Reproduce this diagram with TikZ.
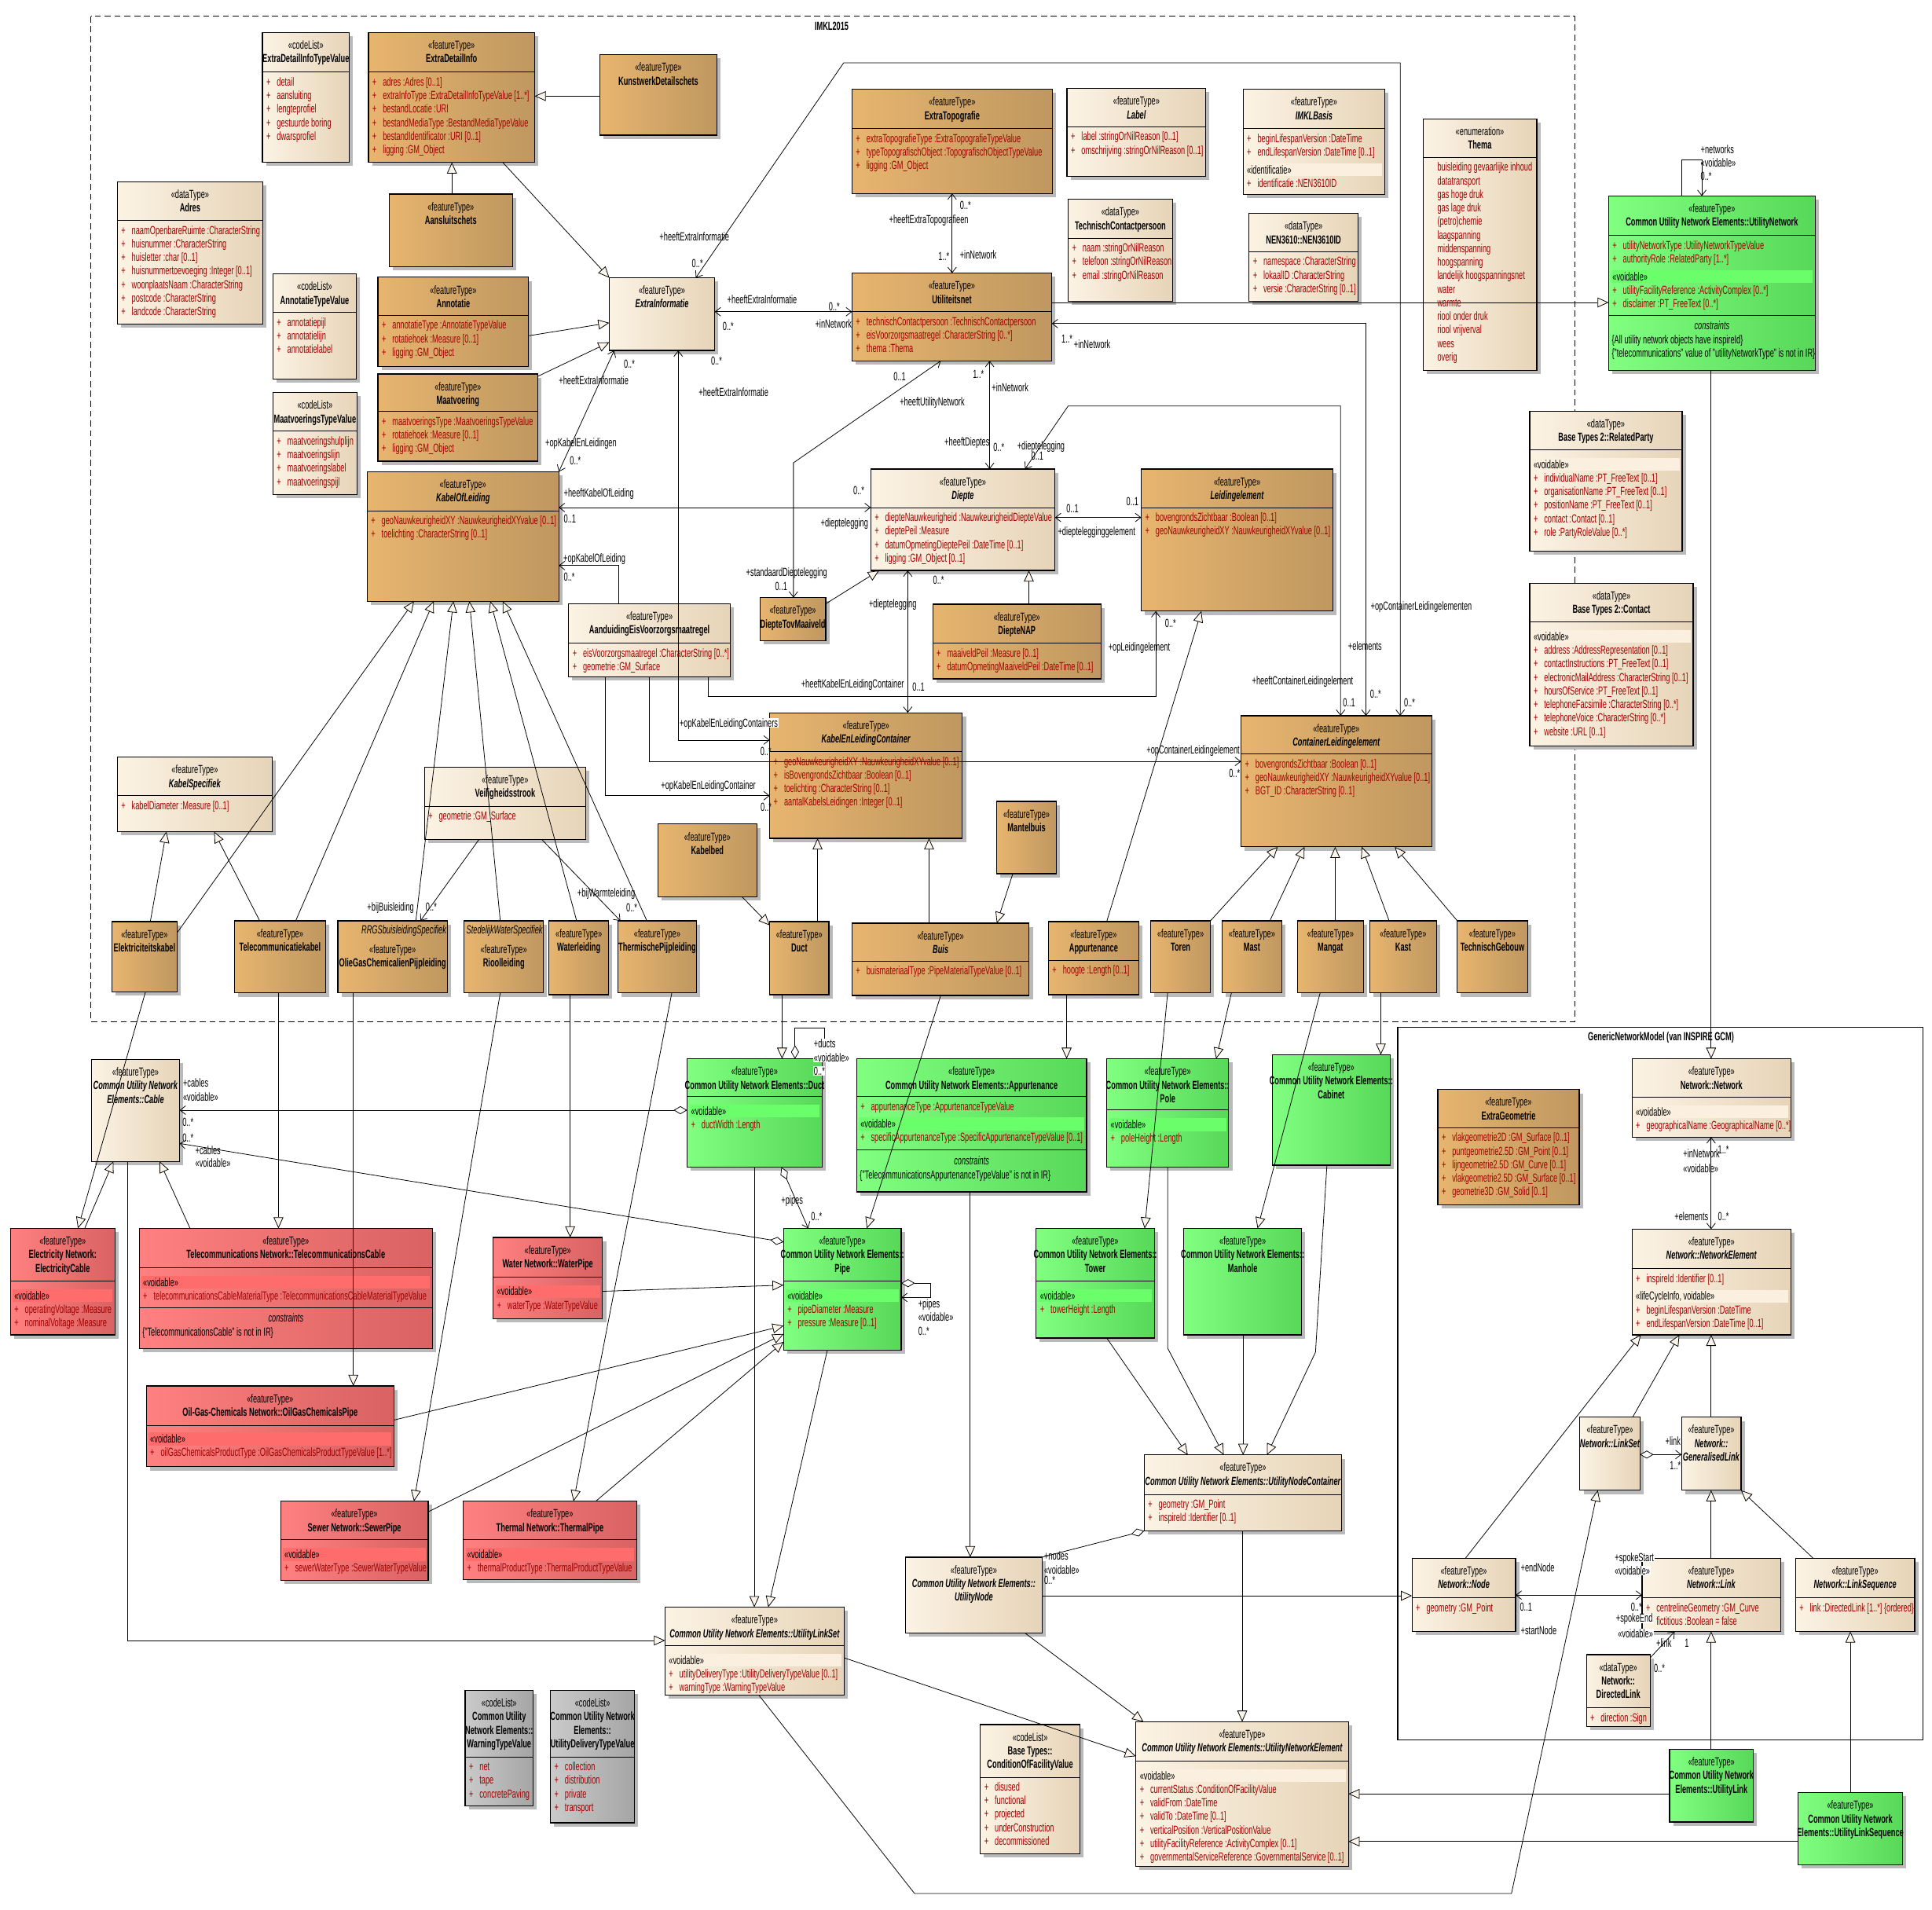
\documentclass[tikz,border=0pt]{standalone}
\usepackage{fontspec}
\setmainfont{Liberation Sans}[FakeStretch=0.62]
\usetikzlibrary{arrows.meta,shadows,calc}

\definecolor{tanL}{HTML}{E7B56F}
\definecolor{tanR}{HTML}{BF9760}
\definecolor{crL}{HTML}{FCF3E4}
\definecolor{crR}{HTML}{E6D4B8}
\definecolor{gnL}{HTML}{80FF80}
\definecolor{gnR}{HTML}{58D858}
\definecolor{rdL}{HTML}{FF8080}
\definecolor{rdR}{HTML}{D96262}
\definecolor{gyL}{HTML}{CACACA}
\definecolor{gyR}{HTML}{A5A5A5}
\definecolor{crB}{HTML}{FBF0DF}
\definecolor{gnB}{HTML}{6AFF6A}
\definecolor{rdB}{HTML}{FF6C6C}
\definecolor{attrred}{HTML}{A00000}
\definecolor{trifill}{HTML}{FBF5EC}

\newcommand{\uf}{\fontsize{9.5}{11}\selectfont}
\newcommand{\uSt}[1]{\strut«#1»}
\newcommand{\uNm}[1]{\strut\textbf{#1}}
\newcommand{\uNi}[1]{\strut\textbf{\textit{#1}}}
\newcommand{\uAp}[1]{\strut\makebox[8.5pt][l]{+}#1}
\newcommand{\uEv}[1]{\strut\makebox[8.5pt]{}#1}
\newcommand{\uSv}[1]{\strut\textcolor{black}{«#1»}}

\tikzset{
  box/.style={draw=black,line width=0.8pt,inner sep=0pt,outer sep=0pt,
    drop shadow={shadow xshift=3pt,shadow yshift=-3pt,fill=black!27,opacity=1}},
  ftan/.style={left color=tanL,right color=tanR},
  fcr/.style={left color=crL,right color=crR},
  fgn/.style={left color=gnL,right color=gnR},
  frd/.style={left color=rdL,right color=rdR},
  fgy/.style={left color=gyL,right color=gyR},
  hdr/.style={anchor=north,inner sep=0pt,align=center,font=\uf},
  attrs/.style={anchor=north west,inner sep=0pt,align=left,font=\uf,text=attrred},
  lbl/.style={anchor=west,inner sep=0.4pt,font=\uf,text height=6.8pt,text depth=0pt},
  sepl/.style={line width=0.6pt},
  conn/.style={line width=0.5pt},
  gen/.style={conn,-{Triangle[length=9pt,width=8pt,fill=trifill]}},
  nav/.style={conn,-{Straight Barb[length=4.5pt,width=7pt]}},
  nav2/.style={conn,{Straight Barb[length=4.5pt,width=7pt]}-{Straight Barb[length=4.5pt,width=7pt]}},
  agg/.style={conn,{Diamond[length=11pt,width=6.5pt,fill=white]}-},
  aggnav/.style={conn,{Diamond[length=11pt,width=6.5pt,fill=white]}-{Straight Barb[length=4.5pt,width=7pt]}},
}

% class box: [header shift]{name}{fill}{x0}{y0}{x1}{y1}{header}
\newcommand{\ccls}[8][5.6]{%
  \node[box,#3,anchor=north west,minimum width={(#6-#4)*1pt},minimum height={(#7-#5)*1pt}] (#2) at (#4,#5) {};
  \node[hdr,yshift=-#1pt] (#2-h) at (#2.north) {#8};
}
\newcommand{\csep}[2]{\draw[sepl] (#1.west |- 0,#2) -- (#1.east |- 0,#2);}
\newcommand{\cbody}[5][0]{\node[attrs,xshift=3pt,yshift={-3.2pt-#1pt}] (#2-#3) at (#2.west |- 0,#4) {#5};}
\newcommand{\cband}[3]{\fill[#3] ($(#1.west |- 0,#2)+(2,-5.2)$) rectangle ($(#1.east |- 0,#2)+(-2,5.2)$);}
\newcommand{\ccons}[3]{%
  \draw[sepl] (#1.west |- 0,#2) -- (#1.east |- 0,#2);
  \node[hdr,yshift=-3.8pt] (#1-ct) at (#1.center |- 0,#2) {\strut\textit{constraints}};
  \node[attrs,text=black,xshift=2.5pt,yshift=-15.2pt] (#1-cl) at (#1.west |- 0,#2) {#3};
}
\newcommand{\clab}[4][]{\node[lbl,#1] (#2) at (#3) {#4};}

\begin{document}
\begin{tikzpicture}[x=1pt,y=-1pt]
\fill[white] (0,0) rectangle (1568,1550);
\useasboundingbox (0,0) rectangle (1568,1550);

% package frames
\draw[line width=0.7pt,dash pattern=on 5pt off 3pt] (73.75,13.2) rectangle (1278,829);
\node[font=\uf\bfseries] (imkltitle) at (675,21) {IMKL2015};
\draw[line width=0.7pt] (1134.4,833.6) rectangle (1560.5,1412);
\node[font=\uf\bfseries] (gnmtitle) at (1348,841.8) {GenericNetworkModel (van INSPIRE GCM)};

% ---------------- IMKL2015 classes ----------------
\ccls{edtv}{fcr}{213}{26.4}{283.5}{131.8}{\uSt{codeList}\\\uNm{ExtraDetailInfoTypeValue}}
\csep{edtv}{58.6}
\cbody{edtv}{a}{58.6}{\uAp{detail}\\\uAp{aansluiting}\\\uAp{lengteprofiel}\\\uAp{gestuurde boring}\\\uAp{dwarsprofiel}}

\ccls{edi}{ftan}{299}{26.4}{434}{131.8}{\uSt{featureType}\\\uNm{ExtraDetailInfo}}
\csep{edi}{58.6}
\cbody{edi}{a}{58.6}{\uAp{adres :Adres [0..1]}\\\uAp{extraInfoType :ExtraDetailInfoTypeValue [1..*]}\\\uAp{bestandLocatie :URI}\\\uAp{bestandMediaType :BestandMediaTypeValue}\\\uAp{bestandIdentificator :URI [0..1]}\\\uAp{ligging :GM\_Object}}

\ccls{adres}{fcr}{95.25}{147.6}{213.25}{263}{\uSt{dataType}\\\uNm{Adres}}
\csep{adres}{179}
\cbody{adres}{a}{179}{\uAp{naamOpenbareRuimte :CharacterString}\\\uAp{huisnummer :CharacterString}\\\uAp{huisletter :char [0..1]}\\\uAp{huisnummertoevoeging :Integer [0..1]}\\\uAp{woonplaatsNaam :CharacterString}\\\uAp{postcode :CharacterString}\\\uAp{landcode :CharacterString}}

\ccls{aansl}{ftan}{315.75}{157.5}{416}{216.5}{\uSt{featureType}\\\uNm{Aansluitschets}}

\ccls{atv}{fcr}{221.5}{222.4}{289.25}{307.7}{\uSt{codeList}\\\uNm{AnnotatieTypeValue}}
\csep{atv}{253.7}
\cbody{atv}{a}{253.7}{\uAp{annotatiepijl}\\\uAp{annotatielijn}\\\uAp{annotatielabel}}

\ccls{annot}{ftan}{306.75}{225}{429}{297.5}{\uSt{featureType}\\\uNm{Annotatie}}
\csep{annot}{256}
\cbody{annot}{a}{256}{\uAp{annotatieType :AnnotatieTypeValue}\\\uAp{rotatiehoek :Measure [0..1]}\\\uAp{ligging :GM\_Object}}

\ccls{mtv}{fcr}{221.5}{318.6}{289.75}{401.3}{\uSt{codeList}\\\uNm{MaatvoeringsTypeValue}}
\csep{mtv}{350}
\cbody{mtv}{a}{350}{\uAp{maatvoeringshulplijn}\\\uAp{maatvoeringslijn}\\\uAp{maatvoeringslabel}\\\uAp{maatvoeringspijl}}

\ccls{maat}{ftan}{306.75}{303.5}{436.5}{374.3}{\uSt{featureType}\\\uNm{Maatvoering}}
\csep{maat}{334}
\cbody{maat}{a}{334}{\uAp{maatvoeringsType :MaatvoeringsTypeValue}\\\uAp{rotatiehoek :Measure [0..1]}\\\uAp{ligging :GM\_Object}}

\ccls{kol}{ftan}{298}{382.9}{453.5}{488}{\uSt{featureType}\\\uNi{KabelOfLeiding}}
\csep{kol}{414.5}
\cbody{kol}{a}{414.5}{\uAp{geoNauwkeurigheidXY :NauwkeurigheidXYvalue [0..1]}\\\uAp{toelichting :CharacterString [0..1]}}

\ccls{kws}{ftan}{486.7}{44.5}{582}{109.7}{\uSt{featureType}\\\uNm{KunstwerkDetailschets}}
\ccls{exinf}{fcr}{494.5}{225.4}{580}{284.4}{\uSt{featureType}\\\uNi{ExtraInformatie}}

\ccls{extopo}{ftan}{691.5}{72.5}{854}{157}{\uSt{featureType}\\\uNm{ExtraTopografie}}
\csep{extopo}{104.4}
\cbody{extopo}{a}{104.4}{\uAp{extraTopografieType :ExtraTopografieTypeValue}\\\uAp{typeTopografischObject :TopografischObjectTypeValue}\\\uAp{ligging :GM\_Object}}

\ccls{util}{ftan}{691.5}{221.7}{853.6}{292.9}{\uSt{featureType}\\\uNm{Utiliteitsnet}}
\csep{util}{253}
\cbody{util}{a}{253}{\uAp{technischContactpersoon :TechnischContactpersoon}\\\uAp{eisVoorzorgsmaatregel :CharacterString [0..*]}\\\uAp{thema :Thema}}

\ccls{aand}{fcr}{461.5}{490}{592.7}{549.5}{\uSt{featureType}\\\uNm{AanduidingEisVoorzorgsmaatregel}}
\csep{aand}{522}
\cbody{aand}{a}{522}{\uAp{eisVoorzorgsmaatregel :CharacterString [0..*]}\\\uAp{geometrie :GM\_Surface}}

\ccls{diepte}{fcr}{706.7}{380.6}{856.2}{463}{\uSt{featureType}\\\uNi{Diepte}}
\csep{diepte}{412}
\cbody{diepte}{a}{412}{\uAp{diepteNauwkeurigheid :NauwkeurigheidDiepteValue}\\\uAp{dieptePeil :Measure}\\\uAp{datumOpmetingDieptePeil :DateTime [0..1]}\\\uAp{ligging :GM\_Object [0..1]}}

\ccls{dtm}{ftan}{616.7}{485}{670.2}{520}{\uSt{featureType}\\\uNm{DiepteTovMaaiveld}}

\ccls{label}{fcr}{866}{71.8}{978.6}{143.3}{\uSt{featureType}\\\uNi{Label}}
\csep{label}{103}
\cbody{label}{a}{103}{\uAp{label :stringOrNilReason [0..1]}\\\uAp{omschrijving :stringOrNilReason [0..1]}}

\ccls{imklb}{fcr}{1008.9}{72.5}{1123.9}{158}{\uSt{featureType}\\\uNi{IMKLBasis}}
\csep{imklb}{104.4}
\cband{imklb}{137.7}{crB}
\cbody{imklb}{a}{104.4}{\uAp{beginLifespanVersion :DateTime}\\\uAp{endLifespanVersion :DateTime [0..1]}\\[3.5pt]\uSv{identificatie}\\\uAp{identificatie :NEN3610ID}}

\ccls{tcp}{fcr}{866.9}{161.8}{951.6}{244.5}{\uSt{dataType}\\\uNm{TechnischContactpersoon}}
\csep{tcp}{193.4}
\cbody{tcp}{a}{193.4}{\uAp{naam :stringOrNilReason}\\\uAp{telefoon :stringOrNilReason}\\\uAp{email :stringOrNilReason}}

\ccls{nen}{fcr}{1013.7}{173.3}{1102.2}{244.5}{\uSt{dataType}\\\uNm{NEN3610::NEN3610ID}}
\csep{nen}{204.3}
\cbody{nen}{a}{204.3}{\uAp{namespace :CharacterString}\\\uAp{lokaalID :CharacterString}\\\uAp{versie :CharacterString [0..1]}}

\ccls{thema}{fcr}{1154.9}{96.5}{1247.2}{300.5}{\uSt{enumeration}\\\uNm{Thema}}
\csep{thema}{127.8}
\cbody{thema}{a}{127.8}{\uEv{buisleiding gevaarlijke inhoud}\\\uEv{datatransport}\\\uEv{gas hoge druk}\\\uEv{gas lage druk}\\\uEv{(petro)chemie}\\\uEv{laagspanning}\\\uEv{middenspanning}\\\uEv{hoogspanning}\\\uEv{landelijk hoogspanningsnet}\\\uEv{water}\\\uEv{warmte}\\\uEv{riool onder druk}\\\uEv{riool vrijverval}\\\uEv{wees}\\\uEv{overig}}

\ccls{leid}{ftan}{926.2}{380.6}{1081.9}{496}{\uSt{featureType}\\\uNi{Leidingelement}}
\csep{leid}{412}
\cbody{leid}{a}{412}{\uAp{bovengrondsZichtbaar :Boolean [0..1]}\\\uAp{geoNauwkeurigheidXY :NauwkeurigheidXYvalue [0..1]}}

\ccls{dnap}{ftan}{757}{490.3}{893.6}{551}{\uSt{featureType}\\\uNm{DiepteNAP}}
\csep{dnap}{522.2}
\cbody{dnap}{a}{522.2}{\uAp{maaiveldPeil :Measure [0..1]}\\\uAp{datumOpmetingMaaiveldPeil :DateTime [0..1]}}

\ccls{kspec}{fcr}{95.25}{614.5}{221}{675}{\uSt{featureType}\\\uNi{KabelSpecifiek}}
\csep{kspec}{645.8}
\cbody{kspec}{a}{645.8}{\uAp{kabelDiameter :Measure [0..1]}}

\ccls{veil}{fcr}{344.5}{622.7}{475.5}{681.3}{\uSt{featureType}\\\uNm{Veiligheidsstrook}}
\csep{veil}{654.3}
\cbody{veil}{a}{654.3}{\uAp{geometrie :GM\_Surface}}

\ccls{ekab}{ftan}{90.75}{747.9}{143.75}{805.2}{\uSt{featureType}\\\uNm{Elektriciteitskabel}}
\ccls{tkab}{ftan}{190.25}{747.3}{264.25}{805.9}{\uSt{featureType}\\\uNm{Telecommunicatiekabel}}
\ccls[18.7]{ogc}{ftan}{274.25}{747.3}{363}{805.9}{\uSt{featureType}\\\uNm{OlieGasChemicalienPijpleiding}}
\node[lbl,anchor=east] (rrgs) at (363,754.5) {\textit{RRGSbuisleidingSpecifiek}};
\ccls[18.7]{riool}{ftan}{376.75}{747.3}{441}{805.9}{\uSt{featureType}\\\uNm{Rioolleiding}}
\node[lbl] (swspec) at (378,754.5) {\textit{StedelijkWaterSpecifiek}};
\ccls{water}{ftan}{445.5}{747.3}{494}{807.2}{\uSt{featureType}\\\uNm{Waterleiding}}
\ccls{therm}{ftan}{501.5}{747.3}{565.2}{805.9}{\uSt{featureType}\\\uNm{ThermischePijpleiding}}
\ccls{duct}{ftan}{624.7}{747.9}{672.7}{807.2}{\uSt{featureType}\\\uNm{Duct}}
\ccls{kbed}{ftan}{534}{668.8}{614.2}{727.8}{\uSt{featureType}\\\uNm{Kabelbed}}

\ccls{kelc}{ftan}{624.7}{578.5}{781}{680.4}{\uSt{featureType}\\\uNi{KabelEnLeidingContainer}}
\csep{kelc}{610}
\cbody{kelc}{a}{610}{\uAp{geoNauwkeurigheidXY :NauwkeurigheidXYvalue [0..1]}\\\uAp{isBovengrondsZichtbaar :Boolean [0..1]}\\\uAp{toelichting :CharacterString [0..1]}\\\uAp{aantalKabelsLeidingen :Integer [0..1]}}

\ccls{buis}{ftan}{691.5}{749.2}{835.2}{807.9}{\uSt{featureType}\\\uNi{Buis}}
\csep{buis}{780}
\cbody{buis}{a}{780}{\uAp{buismateriaalType :PipeMaterialTypeValue [0..1]}}

\ccls{mantel}{ftan}{808.9}{650.4}{857.4}{709}{\uSt{featureType}\\\uNm{Mantelbuis}}
\ccls{appt}{ftan}{850.9}{747.9}{924.2}{807.2}{\uSt{featureType}\\\uNm{Appurtenance}}
\csep{appt}{779.5}
\cbody{appt}{a}{779.5}{\uAp{hoogte :Length [0..1]}}
\ccls{toren}{ftan}{933.9}{747.3}{982.4}{805.9}{\uSt{featureType}\\\uNm{Toren}}
\ccls{mast}{ftan}{991.9}{747.3}{1040.2}{805.9}{\uSt{featureType}\\\uNm{Mast}}
\ccls{mangat}{ftan}{1052.9}{747.3}{1106.7}{805.9}{\uSt{featureType}\\\uNm{Mangat}}
\ccls{kast}{ftan}{1111.7}{747.3}{1165.9}{805.9}{\uSt{featureType}\\\uNm{Kast}}
\ccls{tgeb}{ftan}{1182.7}{747.3}{1239.7}{805.9}{\uSt{featureType}\\\uNm{TechnischGebouw}}

\ccls{cle}{ftan}{1007.2}{580.9}{1161.9}{687.3}{\uSt{featureType}\\\uNi{ContainerLeidingelement}}
\csep{cle}{612}
\cbody{cle}{a}{612}{\uAp{bovengrondsZichtbaar :Boolean [0..1]}\\\uAp{geoNauwkeurigheidXY :NauwkeurigheidXYvalue [0..1]}\\\uAp{BGT\_ID :CharacterString [0..1]}}

% ---------------- INSPIRE side ----------------
\ccls{un}{fgn}{1305.5}{159.1}{1473.2}{300.5}{\uSt{featureType}\\\uNm{Common Utility Network Elements::UtilityNetwork}}
\csep{un}{191.1}
\cband{un}{224.4}{gnB}
\cbody{un}{a}{191.1}{\uAp{utilityNetworkType :UtilityNetworkTypeValue}\\\uAp{authorityRole :RelatedParty [1..*]}\\[3.5pt]\uSv{voidable}\\\uAp{utilityFacilityReference :ActivityComplex [0..*]}\\\uAp{disclaimer :PT\_FreeText [0..*]}}
\ccons{un}{256}{\strut\{All utility network objects have inspireId\}\\\strut\{"telecommunications" value of "utilityNetworkType" is not in IR\}}

\ccls{rp}{fcr}{1241.5}{333.8}{1365.2}{447.1}{\uSt{dataType}\\\uNm{Base Types 2::RelatedParty}}
\csep{rp}{365}
\cband{rp}{376.8}{crB}
\cbody[4]{rp}{a}{365}{\uSv{voidable}\\\uAp{individualName :PT\_FreeText [0..1]}\\\uAp{organisationName :PT\_FreeText [0..1]}\\\uAp{positionName :PT\_FreeText [0..1]}\\\uAp{contact :Contact [0..1]}\\\uAp{role :PartyRoleValue [0..*]}}

\ccls{contact}{fcr}{1241.5}{473.5}{1374.2}{605.5}{\uSt{dataType}\\\uNm{Base Types 2::Contact}}
\csep{contact}{504.8}
\cband{contact}{516.6}{crB}
\cbody[4]{contact}{a}{504.8}{\uSv{voidable}\\\uAp{address :AddressRepresentation [0..1]}\\\uAp{contactInstructions :PT\_FreeText [0..1]}\\\uAp{electronicMailAddress :CharacterString [0..1]}\\\uAp{hoursOfService :PT\_FreeText [0..1]}\\\uAp{telephoneFacsimile :CharacterString [0..*]}\\\uAp{telephoneVoice :CharacterString [0..*]}\\\uAp{website :URL [0..1]}}

\ccls{cable}{fcr}{74.25}{859.9}{145.75}{942.6}{\uSt{featureType}\\\uNi{Common Utility Network}\\\uNi{Elements::Cable}}

\ccls{ecab}{frd}{8.5}{996.9}{93.25}{1083.3}{\uSt{featureType}\\\uNm{Electricity Network:}\\\uNm{ElectricityCable}}
\csep{ecab}{1039.8}
\cband{ecab}{1051.6}{rdB}
\cbody[4]{ecab}{a}{1039.8}{\uSv{voidable}\\\uAp{operatingVoltage :Measure}\\\uAp{nominalVoltage :Measure}}

\ccls{tcab}{frd}{113}{996.9}{351}{1094.5}{\uSt{featureType}\\\uNm{Telecommunications Network::TelecommunicationsCable}}
\csep{tcab}{1028.9}
\cband{tcab}{1040.7}{rdB}
\cbody[4]{tcab}{a}{1028.9}{\uSv{voidable}\\\uAp{telecommunicationsCableMaterialType :TelecommunicationsCableMaterialTypeValue}}
\ccons{tcab}{1061.2}{\strut\{"TelecommunicationsCable" is not in IR\}}

\ccls{ogp}{frd}{118.75}{1124.8}{319.75}{1190.4}{\uSt{featureType}\\\uNm{Oil-Gas-Chemicals Network::OilGasChemicalsPipe}}
\csep{ogp}{1156.8}
\cband{ogp}{1167.8}{rdB}
\cbody[3]{ogp}{a}{1156.8}{\uSv{voidable}\\\uAp{oilGasChemicalsProductType :OilGasChemicalsProductTypeValue [1..*]}}

\ccls{sewer}{frd}{227.75}{1218.4}{347.5}{1282.6}{\uSt{featureType}\\\uNm{Sewer Network::SewerPipe}}
\csep{sewer}{1249.7}
\cband{sewer}{1261.5}{rdB}
\cbody[4]{sewer}{a}{1249.7}{\uSv{voidable}\\\uAp{sewerWaterType :SewerWaterTypeValue}}

\ccls{thermal}{frd}{376}{1218.4}{516.7}{1282}{\uSt{featureType}\\\uNm{Thermal Network::ThermalPipe}}
\csep{thermal}{1249.7}
\cband{thermal}{1261.5}{rdB}
\cbody[4]{thermal}{a}{1249.7}{\uSv{voidable}\\\uAp{thermalProductType :ThermalProductTypeValue}}

\ccls{wpipe}{frd}{400.2}{1004.3}{488.95}{1070.4}{\uSt{featureType}\\\uNm{Water Network::WaterPipe}}
\csep{wpipe}{1036.3}
\cband{wpipe}{1048.1}{rdB}
\cbody[4]{wpipe}{a}{1036.3}{\uSv{voidable}\\\uAp{waterType :WaterTypeValue}}

\ccls{cduct}{fgn}{557.7}{859.3}{667.2}{947.3}{\uSt{featureType}\\\uNm{Common Utility Network Elements::Duct}}
\csep{cduct}{889.9}
\cband{cduct}{901.7}{gnB}
\cbody[4]{cduct}{a}{889.9}{\uSv{voidable}\\\uAp{ductWidth :Length}}

\ccls{cappt}{fgn}{695.2}{859.3}{881.9}{967.3}{\uSt{featureType}\\\uNm{Common Utility Network Elements::Appurtenance}}
\csep{cappt}{889.9}
\cband{cappt}{912.2}{gnB}
\cbody{cappt}{a}{889.9}{\uAp{appurtenanceType :AppurtenanceTypeValue}\\[3.5pt]\uSv{voidable}\\\uAp{specificAppurtenanceType :SpecificAppurtenanceTypeValue [0..1]}}
\ccons{cappt}{933.4}{\strut\{"TelecommunicationsAppurtenanceTypeValue" is not in IR\}}

\ccls{pipe}{fgn}{635.95}{997}{731.45}{1095.8}{\uSt{featureType}\\\uNm{Common Utility Network Elements::}\\\uNm{Pipe}}
\csep{pipe}{1039.8}
\cband{pipe}{1051.6}{gnB}
\cbody[4]{pipe}{a}{1039.8}{\uSv{voidable}\\\uAp{pipeDiameter :Measure}\\\uAp{pressure :Measure [0..1]}}

\ccls{pole}{fgn}{898.2}{859.3}{997.2}{947.3}{\uSt{featureType}\\\uNm{Common Utility Network Elements::}\\\uNm{Pole}}
\csep{pole}{900.4}
\cband{pole}{912.7}{gnB}
\cbody[4.5]{pole}{a}{900.4}{\uSv{voidable}\\\uAp{poleHeight :Length}}

\ccls{tower}{fgn}{840.9}{997}{936.9}{1085.9}{\uSt{featureType}\\\uNm{Common Utility Network Elements::}\\\uNm{Tower}}
\csep{tower}{1039.8}
\cband{tower}{1051.6}{gnB}
\cbody[4]{tower}{a}{1039.8}{\uSv{voidable}\\\uAp{towerHeight :Length}}

\ccls{manhole}{fgn}{960.7}{997}{1056.4}{1083.3}{\uSt{featureType}\\\uNm{Common Utility Network Elements::}\\\uNm{Manhole}}
\ccls{cabinet}{fgn}{1032.6}{856}{1128.2}{945.6}{\uSt{featureType}\\\uNm{Common Utility Network Elements::}\\\uNm{Cabinet}}

\ccls{unc}{fcr}{928.65}{1180.8}{1088.9}{1242.4}{\uSt{featureType}\\\uNi{Common Utility Network Elements::UtilityNodeContainer}}
\csep{unc}{1212.8}
\cbody{unc}{a}{1212.8}{\uAp{geometry :GM\_Point}\\\uAp{inspireId :Identifier [0..1]}}

\ccls{unode}{fcr}{735}{1263.8}{845.65}{1325.4}{\uSt{featureType}\\\uNi{Common Utility Network Elements::}\\\uNi{UtilityNode}}

\ccls{uls}{fcr}{539.7}{1304.4}{685.2}{1375.9}{\uSt{featureType}\\\uNi{Common Utility Network Elements::UtilityLinkSet}}
\csep{uls}{1335.7}
\cband{uls}{1347.5}{crB}
\cbody[4]{uls}{a}{1335.7}{\uSv{voidable}\\\uAp{utilityDeliveryType :UtilityDeliveryTypeValue [0..1]}\\\uAp{warningType :WarningTypeValue}}

\ccls{une}{fcr}{921.9}{1397.3}{1094.4}{1514.9}{\uSt{featureType}\\\uNi{Common Utility Network Elements::UtilityNetworkElement}}
\csep{une}{1429.2}
\cband{une}{1441}{crB}
\cbody[4]{une}{a}{1429.2}{\uSv{voidable}\\\uAp{currentStatus :ConditionOfFacilityValue}\\\uAp{validFrom :DateTime}\\\uAp{validTo :DateTime [0..1]}\\\uAp{verticalPosition :VerticalPositionValue}\\\uAp{utilityFacilityReference :ActivityComplex [0..1]}\\\uAp{governmentalServiceReference :GovernmentalService [0..1]}}

\ccls{cofv}{fcr}{795.65}{1399.6}{876.4}{1504.4}{\uSt{codeList}\\\uNm{Base Types::}\\\uNm{ConditionOfFacilityValue}}
\csep{cofv}{1442.4}
\cbody{cofv}{a}{1442.4}{\uAp{disused}\\\uAp{functional}\\\uAp{projected}\\\uAp{underConstruction}\\\uAp{decommissioned}}

\ccls{wtv}{fgy}{377.5}{1371.9}{432.7}{1465.8}{\uSt{codeList}\\\uNm{Common Utility}\\\uNm{Network Elements::}\\\uNm{WarningTypeValue}}
\csep{wtv}{1425.9}
\cbody{wtv}{a}{1425.9}{\uAp{net}\\\uAp{tape}\\\uAp{concretePaving}}

\ccls{udtv}{fgy}{446.7}{1371.9}{515}{1479.3}{\uSt{codeList}\\\uNm{Common Utility Network}\\\uNm{Elements::}\\\uNm{UtilityDeliveryTypeValue}}
\csep{udtv}{1425.9}
\cbody{udtv}{a}{1425.9}{\uAp{collection}\\\uAp{distribution}\\\uAp{private}\\\uAp{transport}}

\ccls{egeo}{ftan}{1166.9}{884.3}{1281.7}{977.9}{\uSt{featureType}\\\uNm{ExtraGeometrie}}
\csep{egeo}{915.3}
\cbody{egeo}{a}{915.3}{\uAp{vlakgeometrie2D :GM\_Surface [0..1]}\\\uAp{puntgeometrie2.5D :GM\_Point [0..1]}\\\uAp{lijngeometrie2.5D :GM\_Curve [0..1]}\\\uAp{vlakgeometrie2.5D :GM\_Surface [0..1]}\\\uAp{geometrie3D :GM\_Solid [0..1]}}

\ccls{nnet}{fcr}{1324.5}{859.3}{1453.5}{922.9}{\uSt{featureType}\\\uNm{Network::Network}}
\csep{nnet}{890.6}
\cband{nnet}{902.4}{crB}
\cbody[4]{nnet}{a}{890.6}{\uSv{voidable}\\\uAp{geographicalName :GeographicalName [0..*]}}

\ccls{nne}{fcr}{1324.5}{997.6}{1453.5}{1083.3}{\uSt{featureType}\\\uNi{Network::NetworkElement}}
\csep{nne}{1029.6}
\cband{nne}{1052}{crB}
\cbody{nne}{a}{1029.6}{\uAp{inspireId :Identifier [0..1]}\\[3.5pt]\uSv{lifeCycleInfo, voidable}\\\uAp{beginLifespanVersion :DateTime}\\\uAp{endLifespanVersion :DateTime [0..1]}}

\ccls{nls}{fcr}{1282.2}{1150.2}{1331}{1209.5}{\uSt{featureType}\\\uNi{Network::LinkSet}}
\ccls{ngl}{fcr}{1364.7}{1150.2}{1413}{1209.5}{\uSt{featureType}\\\uNi{Network::}\\\uNi{GeneralisedLink}}

\ccls{nnode}{fcr}{1146}{1264.8}{1230}{1324.1}{\uSt{featureType}\\\uNi{Network::Node}}
\csep{nnode}{1296.8}
\cbody{nnode}{a}{1296.8}{\uAp{geometry :GM\_Point}}

\ccls{nlink}{fcr}{1332.7}{1264.8}{1445}{1324.1}{\uSt{featureType}\\\uNi{Network::Link}}
\csep{nlink}{1296.8}
\cbody{nlink}{a}{1296.8}{\uAp{centrelineGeometry :GM\_Curve}\\\uEv{fictitious :Boolean = false}}

\ccls{nlseq}{fcr}{1457.2}{1264.8}{1554}{1324.1}{\uSt{featureType}\\\uNi{Network::LinkSequence}}
\csep{nlseq}{1296.8}
\cbody{nlseq}{a}{1296.8}{\uAp{link :DirectedLink [1..*] \{ordered\}}}

\ccls{ndl}{fcr}{1287.5}{1342.9}{1339.2}{1401}{\uSt{dataType}\\\uNm{Network::}\\\uNm{DirectedLink}}
\csep{ndl}{1386}
\cbody{ndl}{a}{1386}{\uAp{direction :Sign}}

\ccls{ulink}{fgn}{1355}{1419.7}{1423}{1478.7}{\uSt{featureType}\\\uNm{Common Utility Network}\\\uNm{Elements::UtilityLink}}
\ccls{ulseq}{fgn}{1459.2}{1454.9}{1544.2}{1513.6}{\uSt{featureType}\\\uNm{Common Utility Network}\\\uNm{Elements::UtilityLinkSequence}}

% ---------------- generalizations ----------------
\draw[gen] (366.75,0 |- aansl.north) -- (366.75,0 |- edi.south);
\draw[gen] (kws.west |- 0,78) -- (edi.east |- 0,78);
\draw[gen] (408,0 |- edi.south) -- (exinf.north west);
\draw[gen] (annot.east |- 0,272.5) -- (exinf.west |- 0,262);
\draw[gen] (maat.east |- 0,305.4) -- (exinf.west |- 0,277.8);
\draw[gen] (ekab.east |- 0,757) -- (336,0 |- kol.south);
\draw[gen] (240,0 |- tkab.north) -- (352,0 |- kol.south);
\draw[gen] (337.5,0 |- ogc.north) -- (368,0 |- kol.south);
\draw[gen] (406,0 |- riool.north) -- (381,0 |- kol.south);
\draw[gen] (468,0 |- water.north) -- (398,0 |- kol.south);
\draw[gen] (525,0 |- therm.north) -- (408,0 |- kol.south);
\draw[gen] (122,0 |- ekab.north) -- (135,0 |- kspec.south);
\draw[gen] (210.75,0 |- tkab.north) -- (173.75,0 |- kspec.south);
\draw[gen] (dtm.east |- 0,490) -- (713.5,0 |- diepte.south);
\draw[gen] (835,0 |- dnap.north) -- (835,0 |- diepte.south);
\draw[gen] (602.2,0 |- kbed.south) -- (duct.west |- 0,751);
\draw[gen] (663.5,0 |- duct.north) -- (663.5,0 |- kelc.south);
\draw[gen] (754,0 |- buis.north) -- (754,0 |- kelc.south);
\draw[gen] (822,0 |- mantel.south) -- (809,0 |- buis.north);
\draw[gen] (898.2,0 |- appt.north) -- (975,0 |- leid.south);
\draw[gen] (toren.north east) -- (1037,0 |- cle.south);
\draw[gen] (1030.6,0 |- mast.north) -- (1058.7,0 |- cle.south);
\draw[gen] (1083.6,0 |- mangat.north) -- (1083.6,0 |- cle.south);
\draw[gen] (1127.4,0 |- kast.north) -- (1105.2,0 |- cle.south);
\draw[gen] (tgeb.north west) -- (1132,0 |- cle.south);
\draw[gen] (util.east |- 0,245.5) -- (un.west |- 0,245.5);
\draw[gen] (1388.7,0 |- un.south) -- (1388.7,0 |- nnet.north);
\draw[gen] (118,0 |- ekab.south) -- (63.25,0 |- ecab.north);
\draw[gen] (68.75,0 |- ecab.north) -- (92,0 |- cable.south);
\draw[gen] (226,0 |- tkab.south) -- (226,0 |- tcab.north);
\draw[gen] (154.25,0 |- tcab.north) -- (129.5,0 |- cable.south);
\draw[gen] (103.5,0 |- cable.south) -- (103.5,1331.4) -- (uls.west |- 0,1331.4);
\draw[gen] (286.75,0 |- ogc.south) -- (286.75,0 |- ogp.north);
\draw[gen] (406,0 |- riool.south) -- (336,0 |- sewer.north);
\draw[gen] (545.2,0 |- therm.south) -- (465.5,0 |- thermal.north);
\draw[gen] (462.7,0 |- water.south) -- (462.7,0 |- wpipe.north);
\draw[gen] (wpipe.east |- 0,1048) -- (pipe.west |- 0,1043);
\draw[gen] (ogp.east |- 0,1152.5) -- (pipe.west |- 0,1076);
\draw[gen] (sewer.east |- 0,1227) -- (pipe.west |- 0,1082.6);
\draw[gen] (483.5,0 |- thermal.north) -- (pipe.west |- 0,1089);
\draw[gen] (634.7,0 |- duct.south) -- (634.7,0 |- cduct.north);
\draw[gen] (865.65,0 |- appt.south) -- (865.65,0 |- cappt.north);
\draw[gen] (763.5,0 |- buis.south) -- (703.5,0 |- pipe.north);
\draw[gen] (999.4,0 |- mast.south) -- (987,0 |- pole.north);
\draw[gen] (947.65,0 |- toren.south) -- (929,0 |- tower.north);
\draw[gen] (1071.4,0 |- mangat.south) -- (1020.6,0 |- manhole.north);
\draw[gen] (1120.65,0 |- kast.south) -- (1120.65,0 |- cabinet.north);
\draw[gen] (671.45,0 |- pipe.south) -- (623.5,0 |- uls.north);
\draw[gen] (612.2,0 |- cduct.south) -- (612.2,0 |- uls.north);
\draw[gen] (898.2,0 |- tower.south) -- (964,0 |- unc.north);
\draw[gen] (947.65,0 |- pole.south) -- (947.65,1094.2) -- (993.2,0 |- unc.north);
\draw[gen] (1008.9,0 |- manhole.south) -- (1008.9,0 |- unc.north);
\draw[gen] (1076.9,0 |- cabinet.south) -- (1067.65,1097.4) -- (1028.2,0 |- unc.north);
\draw[gen] (1008.15,0 |- unc.south) -- (1008.15,0 |- une.north);
\draw[gen] (787.4,0 |- cappt.south) -- (787.4,0 |- unode.north);
\draw[gen] (unode.east |- 0,1295.1) -- (nnode.west |- 0,1295.1);
\draw[gen] (831.9,0 |- unode.south) -- (928,0 |- une.north);
\draw[gen] (uls.east |- 0,1345.5) -- (une.west |- 0,1425.3);
\draw[gen] (616,0 |- uls.south) -- (742.2,1536.7) -- (1226.7,1536.7) -- (1296.7,0 |- nls.south);
\draw[gen] (ulink.west |- 0,1455.9) -- (une.east |- 0,1455.9);
\draw[gen] (ulseq.west |- 0,1494.5) -- (une.east |- 0,1494.5);
\draw[gen] (1325,0 |- nls.north) -- (1363,0 |- nne.south);
\draw[gen] (1388.7,0 |- ngl.north) -- (1388.7,0 |- nne.south);
\draw[gen] (1189.2,0 |- nnode.north) -- (1331.7,0 |- nne.south);
\draw[gen] (1388.7,0 |- nlink.north) -- (1388.7,0 |- ngl.south);
\draw[gen] (1471.7,0 |- nlseq.north) -- (ngl.south east);
\draw[gen] (1388.7,0 |- ulink.north) -- (1388.7,0 |- nlink.south);
\draw[gen] (1501.7,0 |- ulseq.north) -- (1501.7,0 |- nlseq.south);

% ---------------- associations ----------------
\draw[nav2] (772.7,0 |- extopo.south) -- (772.7,0 |- util.north);
\draw[nav2] (exinf.east |- 0,253) -- (util.west |- 0,253);
\draw[nav2] (564.7,0 |- exinf.north) -- (684.7,51) -- (1136.4,51) -- (1136.4,0 |- cle.north);
\draw[nav2] (498.5,0 |- exinf.south) -- (kol.north east);
\draw[nav2] (550.45,0 |- exinf.south) -- (550.45,600.6) -- (kelc.west |- 0,600.6);
\draw[nav2] (kol.east |- 0,411.9) -- (diepte.west |- 0,411.9);
\draw[nav] (502.2,0 |- aand.north) -- (502.2,459) -- (kol.east |- 0,459);
\draw[nav2] (763.5,0 |- util.south) -- (643.95,375.6) -- (643.95,0 |- dtm.north);
\draw[nav2] (803.2,0 |- util.south) -- (803.2,0 |- diepte.north);
\draw[nav2] (diepte.east |- 0,420) -- (leid.west |- 0,420);
\draw[nav2] (831.9,0 |- diepte.north) -- (866.9,329.5) -- (1088,329.5) -- (1088,0 |- cle.north);
\draw[nav2] (util.east |- 0,262.6) -- (1108.6,262.6) -- (1108.6,0 |- cle.north);
\draw[nav2] (736.7,0 |- diepte.south) -- (736.7,0 |- kelc.north);
\draw[nav] (574.7,0 |- aand.south) -- (574.7,565) -- (938,565) -- (938,0 |- leid.south);
\draw[nav] (491,0 |- aand.south) -- (491,645.8) -- (kelc.west |- 0,645.8);
\draw[nav] (527.2,0 |- aand.south) -- (527.2,618) -- (cle.west |- 0,618);
\draw[nav] (388.75,0 |- veil.south) -- (341.25,0 |- ogc.north);
\draw[nav] (439.7,0 |- veil.south) -- (503.5,0 |- therm.north);
\draw[nav] (1364.7,0 |- un.north) -- (1364.7,129.5) -- (1381.2,129.5) -- (1381.2,0 |- un.north);
\draw[aggnav] (cduct.west |- 0,901) -- (cable.east |- 0,901);
\draw[aggnav] (pipe.west |- 0,1008) -- (cable.east |- 0,928);
\draw[agg] (645.2,0 |- cduct.north) -- (645.2,834.5) -- (669.2,834.5) -- (669.2,848);
\draw[aggnav] (634.2,0 |- cduct.south) -- (656,0 |- pipe.north);
\draw[aggnav] (pipe.east |- 0,1041.4) -- (755.2,1041.4) -- (755.2,1053) -- (pipe.east |- 0,1053);
\draw[agg] (unc.south west) -- (unode.north east);
\draw[nav2] (1388.7,0 |- nnet.south) -- (1388.7,0 |- nne.north);
\draw[aggnav] (nls.east |- 0,1180.5) -- (ngl.west |- 0,1180.5);
\draw[nav2] (nnode.east |- 0,1294.6) -- (nlink.west |- 0,1294.6);
\draw[nav] (ndl.east |- 0,1345.5) -- (1359.2,0 |- nlink.south);

% ---------------- role names and multiplicities ----------------
\clab{L1}{778.5,166.4}{0..*}
\clab{L2}{721,178}{+heeftExtraTopografieen}
\clab{L3}{761,208.2}{1..*}
\clab{L4}{778.5,207}{+inNetwork}
\clab{L5}{589.7,243}{+heeftExtraInformatie}
\clab{L6}{586,265}{0..*}
\clab[fill=white]{L7}{672,249}{0..*}
\clab{L8}{661,262.6}{+inNetwork}
\clab{L9}{534.7,192}{+heeftExtraInformatie}
\clab{L10}{561,213.5}{0..*}
\clab{L11}{1111.9,492}{+opContainerLeidingelementen}
\clab{L12}{1138.9,570}{0..*}
\clab{L13}{505.7,295.5}{0..*}
\clab{L14}{453,309}{+heeftExtraInformatie}
\clab{L15}{442,359}{+opKabelEnLeidingen}
\clab{L16}{462,374}{0..*}
\clab{L17}{576.5,293}{0..*}
\clab{L18}{566.5,318.6}{+heeftExtraInformatie}
\clab[fill=white]{L19}{551,586.5}{+opKabelEnLeidingContainers}
\clab{L20}{616.5,609.5}{0..*}
\clab{L21}{457,400}{+heeftKabelOfLeiding}
\clab{L22}{457,421}{0..1}
\clab{L23}{692,398}{0..*}
\clab{L24}{665.5,424}{+dieptelegging}
\clab{L25}{456.7,453}{+opKabelOfLeiding}
\clab{L26}{457,468}{0..*}
\clab{L27}{724.7,305.8}{0..1}
\clab{L28}{729.7,326}{+heeftUtilityNetwork}
\clab{L29}{605,464.6}{+standaardDieptelegging}
\clab{L30}{628.5,475.5}{0..1}
\clab{L31}{789,303.8}{1..*}
\clab{L32}{804.4,314.7}{+inNetwork}
\clab{L33}{766,358.5}{+heeftDieptes}
\clab{L34}{805.6,363}{0..*}
\clab{L35}{864.9,412.5}{0..1}
\clab{L36}{858,431}{+dieptelegginggelement}
\clab{L37}{913.6,407}{0..1}
\clab{L38}{825,361.4}{+dieptelegging}
\clab{L39}{836.4,370}{0..1}
\clab{L40}{1015.6,552}{+heeftContainerLeidingelement}
\clab{L41}{1089.4,570}{0..1}
\clab{L42}{861,275}{1..*}
\clab{L43}{871,279.4}{+inNetwork}
\clab{L44}{1093.6,524}{+elements}
\clab{L45}{1111.4,563}{0..*}
\clab{L46}{756.7,470.5}{0..*}
\clab{L47}{704.7,490}{+dieptelegging}
\clab{L48}{649.7,555}{+heeftKabelEnLeidingContainer}
\clab{L49}{740,557.5}{0..1}
\clab{L50}{899,525}{+opLeidingelement}
\clab{L51}{945,506}{0..*}
\clab{L52}{535.9,636.9}{+opKabelEnLeidingContainer}
\clab{L53}{616.7,655}{0..*}
\clab{L54}{930,608.7}{+opContainerLeidingelement}
\clab{L55}{996.9,627.6}{0..*}
\clab{L56}{297.5,736}{+bijBuisleiding}
\clab{L57}{345,736}{0..*}
\clab{L58}{468,724.2}{+bijWarmteleiding}
\clab{L59}{507.7,736.7}{0..*}
\clab{L60}{1379.7,121}{+networks}
\clab{L61}{1379.7,132}{«voidable»}
\clab{L62}{1379.7,142.7}{0..*}
\clab{L63}{148,879}{+cables}
\clab{L64}{148,890}{«voidable»}
\clab{L65}{147.5,910.7}{0..*}
\clab{L66}{147.5,923.7}{0..*}
\clab{L67}{158,933.4}{+cables}
\clab{L68}{158,944}{«voidable»}
\clab[fill=white]{L69}{660,847}{+ducts}
\clab[fill=white]{L70}{660,858.3}{«voidable»}
\clab[fill=white]{L71}{660,869}{0..*}
\clab{L72}{633.5,974}{+pipes}
\clab{L73}{657.7,987}{0..*}
\clab{L74}{744.7,1058}{+pipes}
\clab{L75}{744.7,1069}{«voidable»}
\clab{L76}{744.7,1080}{0..*}
\clab{L77}{846.9,1262.8}{+nodes}
\clab{L78}{846.9,1274.4}{«voidable»}
\clab{L79}{846.9,1282.6}{0..*}
\clab{L80}{1365.5,936}{+inNetwork}
\clab{L81}{1393.7,932.7}{1..*}
\clab{L82}{1365.5,948.2}{«voidable»}
\clab{L83}{1358.5,987.1}{+elements}
\clab{L84}{1393.7,987.1}{0..*}
\clab{L85}{1351,1169.3}{+link}
\clab{L86}{1354.7,1189.2}{1..*}
\clab{L87}{1233.7,1272.1}{+endNode}
\clab{L88}{1233,1304.4}{0..1}
\clab{L89}{1233.7,1323.2}{+startNode}
\clab[fill=white]{L90}{1310,1263.9}{+spokeStart}
\clab[fill=white]{L91}{1310,1274.7}{«voidable»}
\clab{L92}{1323,1304}{0..*}
\clab[fill=white]{L93}{1311,1313.3}{+spokeEnd}
\clab[fill=white]{L94}{1312.5,1325.5}{«voidable»}
\clab{L95}{1343.7,1333.7}{+link}
\clab{L96}{1366.7,1333.7}{1}
\clab{L97}{1341.7,1353.8}{0..*}
\end{tikzpicture}
\end{document}
